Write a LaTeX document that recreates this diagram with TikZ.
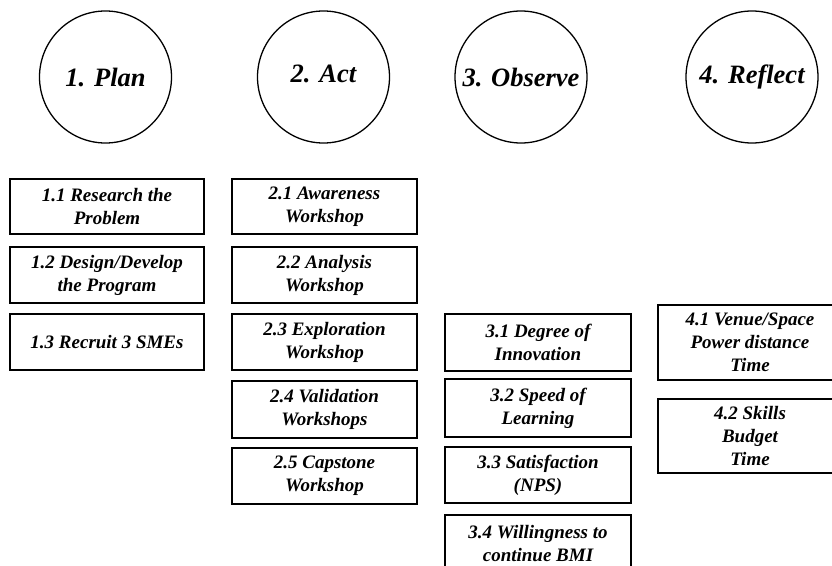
\documentclass[tikz,border=0pt]{standalone}
\usepackage{fontspec}
\setmainfont{Liberation Serif}
\begin{document}
\begin{tikzpicture}[x=1bp,y=-1bp,
  phase/.style={draw, line width=1.3bp, circle, minimum size=132bp, inner sep=0pt,
    font=\fontsize{26.5bp}{30bp}\selectfont\bfseries\itshape},
  box/.style={draw, line width=1.5bp, rectangle, inner sep=0pt, align=center,
    font=\fontsize{19bp}{23bp}\selectfont\bfseries\itshape},
  c1/.style={box, minimum width=194bp},
  c2/.style={box, minimum width=185bp},
  c3/.style={box, minimum width=186bp},
  c4/.style={box, minimum width=184bp}]
\path[use as bounding box, clip] (0,0) rectangle (832,566);
% phase circles
\node[phase] (plan) at (105.5,77) {1. Plan};
\node[phase] (act) at (323.5,77) {\raisebox{6bp}{2. Act}};
\node[phase] (obs) at (521,77) {3. Observe};
\node[phase] (refl) at (752,77) {4. Reflect};
% column 1
\node[c1, minimum height=55bp] (p1) at (107,206.5) {1.1 Research the\\Problem};
\node[c1, minimum height=56bp] (p2) at (107,275) {1.2 Design/Develop\\the Program};
\node[c1, minimum height=56bp] (p3) at (107,342) {1.3 Recruit 3 SMEs};
% column 2
\node[c2, minimum height=55bp] (a1) at (324.5,206.5) {2.1 Awareness\\Workshop};
\node[c2, minimum height=56bp] (a2) at (324.5,275) {2.2 Analysis\\Workshop};
\node[c2, minimum height=56bp] (a3) at (324.5,342) {2.3 Exploration\\Workshop};
\node[c2, minimum height=57bp] (a4) at (324.5,409.5) {2.4 Validation\\Workshops};
\node[c2, minimum height=56bp] (a5) at (324.5,476) {2.5 Capstone\\Workshop};
% column 3
\node[c3, minimum height=57bp] (o1) at (538,342.5) {3.1 Degree of\\Innovation};
\node[c3, minimum height=58bp] (o2) at (538,408) {3.2 Speed of\\Learning};
\node[c3, minimum height=56bp] (o3) at (538,475) {3.3 Satisfaction\\(NPS)};
\node[c3, minimum height=58bp, anchor=north] (o4) at (538,514) {3.4 Willingness to\\continue BMI};
% column 4
\node[c4, minimum height=75bp] (r1) at (750,342.5) {4.1 Venue/Space\\Power distance\\Time};
\node[c4, minimum height=74bp] (r2) at (750,436) {4.2 Skills\\Budget\\Time};
\end{tikzpicture}
\end{document}
